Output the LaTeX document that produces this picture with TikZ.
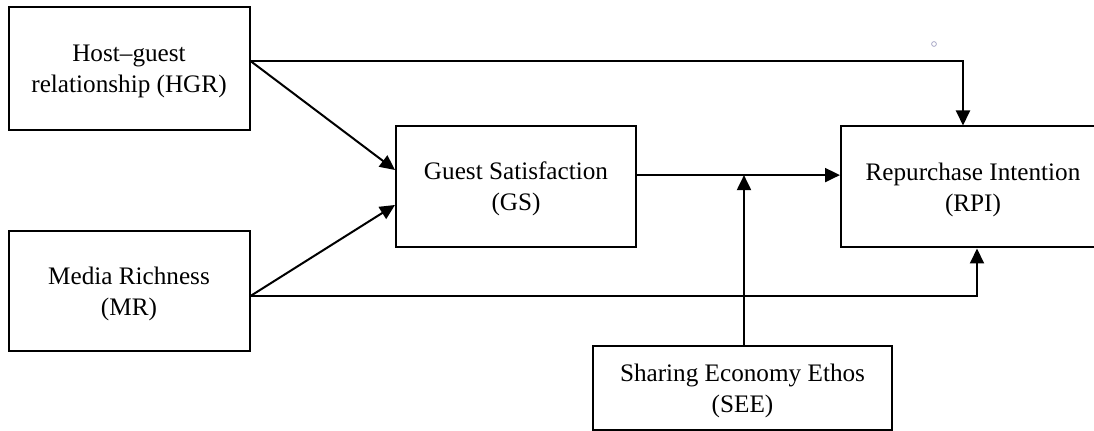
\documentclass[tikz,border=0pt]{standalone}
\usepackage{fontspec}
\setmainfont{Liberation Serif}
\usetikzlibrary{arrows.meta,calc}
\definecolor{dotgray}{RGB}{170,170,200}
\begin{document}
\begin{tikzpicture}[x=0.5pt,y=-0.5pt,
  box/.style={draw,line width=1pt,inner sep=0pt,align=center,text depth=-1pt,font=\fontsize{12.6}{15.3}\selectfont},
  arr/.style={line width=1pt,-{Triangle[length=7.5pt,width=7pt]}}]
\useasboundingbox (0,0) rectangle (1094,431);
\clip (0,0) rectangle (1094,431);
\fill[white] (0,0) rectangle (1094,431);
\node[box,minimum width=120.5pt,minimum height=61.5pt] (HGR) at (129,68.5) {Host–guest\\relationship (HGR)};
\node[box,minimum width=120.5pt,minimum height=60pt] (MR) at (129,291) {Media Richness\\(MR)};
\node[box,minimum width=120pt,minimum height=60.5pt] (GS) at (516,186.3) {Guest Satisfaction\\(GS)};
\node[box,minimum width=132pt,minimum height=60.5pt] (RPI) at (973,187) {Repurchase Intention\\(RPI)};
\node[box,minimum width=149.5pt,minimum height=42pt] (SEE) at (742.5,388) {Sharing Economy Ethos\\(SEE)};
\coordinate (h) at ([yshift=3.75pt]HGR.east);
\coordinate (mr) at ([yshift=-2.5pt]MR.east);
\coordinate (m) at ([yshift=5.6pt]GS.east);
\coordinate (s) at ([xshift=0.75pt]SEE.north);
\draw[arr] (h) -| ([xshift=-5pt]RPI.north);
\draw[arr] (h) -- ([yshift=8.15pt]GS.west);
\draw[arr] (mr) -- ([yshift=-9.35pt]GS.west);
\draw[arr] (mr) -| ([xshift=2pt]RPI.south);
\draw[arr] (m) -- (m -| RPI.west);
\draw[arr] (s) -- (s |- m);
\draw[dotgray,line width=0.4pt] (934,44) circle[radius=1.2pt];
\end{tikzpicture}
\end{document}
